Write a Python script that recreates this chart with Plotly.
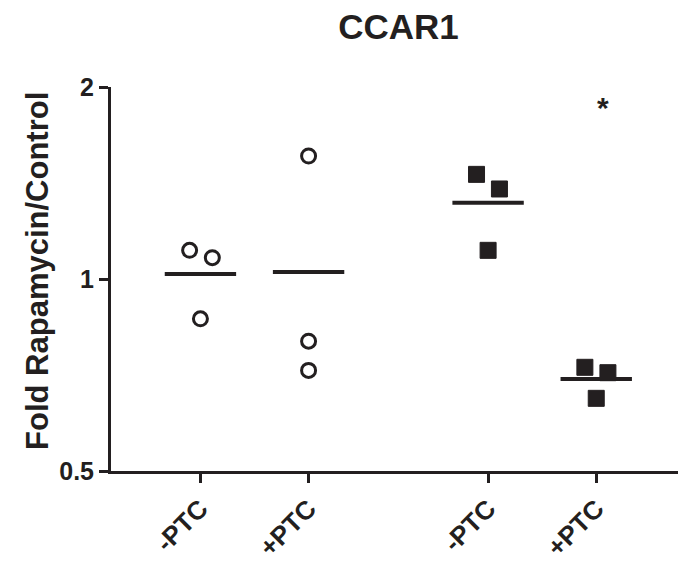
import plotly.graph_objects as go
import numpy as np

# ---- data ----
group_labels = ["-PTC", "+PTC", "-PTC", "+PTC"]
g1_values = [1.109, 1.080, 0.866]   # -PTC, open circles
g2_values = [1.559, 0.799, 0.719]   # +PTC, open circles
g3_values = [1.459, 1.384, 1.109]   # -PTC, filled squares
g4_values = [0.727, 0.713, 0.650]   # +PTC, filled squares
y_tick_vals = [0.5, 1, 2]
y_tick_text = ["0.5", "1", "2"]
title_text = "CCAR1"
y_title = "Fold Rapamycin/Control"

# ---- layout / style ----
group_pos = [1, 2, 3.66, 4.66]
jitter = [[-0.10, 0.11, 0.0], [0.0, 0.0, 0.0], [-0.107, 0.105, 0.0], [-0.105, 0.108, 0.0]]
symbols = ["circle-open", "circle-open", "square", "square"]
ink = "#231f20"
font_family = "Liberation Sans, Arial, Helvetica, sans-serif"

groups = [g1_values, g2_values, g3_values, g4_values]

fig = go.Figure()
for i, vals in enumerate(groups):
    xs = [group_pos[i] + j for j in jitter[i]]
    if symbols[i] == "circle-open":
        marker = dict(symbol="circle-open", size=14, color=ink, line=dict(width=3, color=ink))
    else:
        marker = dict(symbol="square", size=16, color=ink, line=dict(width=1, color=ink))
    fig.add_trace(go.Scatter(x=xs, y=vals, mode="markers", marker=marker,
                             showlegend=False, hoverinfo="y"))
    m = float(np.mean(vals))
    fig.add_trace(go.Scatter(x=[group_pos[i] - 0.33, group_pos[i] + 0.33], y=[m, m],
                             mode="lines", line=dict(color=ink, width=4),
                             showlegend=False, hoverinfo="skip"))

fig.add_annotation(x=group_pos[3] + 0.06, y=np.log10(1.855), xref="x", yref="y",
                   text="<b>*</b>", showarrow=False, xanchor="center", yanchor="middle",
                   font=dict(size=30, color=ink, family=font_family))

fig.add_annotation(x=-0.128, y=0.522, xref="paper", yref="paper",
                   text="<b>" + y_title + "</b>", textangle=-90, showarrow=False,
                   xanchor="center", yanchor="middle",
                   font=dict(size=31, color=ink, family=font_family))

fig.update_layout(
    width=678, height=555,
    margin=dict(l=103, r=0, t=79, b=92, autoexpand=False),
    paper_bgcolor="white", plot_bgcolor="white",
    title=dict(text="<b>" + title_text + "</b>", x=0.5, xref="paper", xanchor="center",
               y=0.967, yref="container", yanchor="middle",
               font=dict(size=35, color=ink, family=font_family)),
    font=dict(family=font_family, color=ink),
)

fig.update_xaxes(range=[0.173, 5.49], showgrid=False, zeroline=False, automargin=False,
                 showline=True, linecolor=ink, linewidth=3,
                 tickmode="array", tickvals=group_pos,
                 ticktext=["<b>" + t + "</b>" for t in group_labels],
                 ticks="outside", ticklen=9, tickwidth=3, tickcolor=ink,
                 tickangle=-45, tickfont=dict(size=26, color=ink, family=font_family))

fig.update_yaxes(type="log", range=[np.log10(0.5), np.log10(2)], showgrid=False,
                 zeroline=False, automargin=False, showline=True, linecolor=ink, linewidth=3,
                 tickmode="array", tickvals=y_tick_vals,
                 ticktext=["<b>" + t + "</b>" for t in y_tick_text],
                 ticks="outside", ticklen=9, tickwidth=3, tickcolor=ink,
                 tickfont=dict(size=25, color=ink, family=font_family))

fig.write_html("out.html")
